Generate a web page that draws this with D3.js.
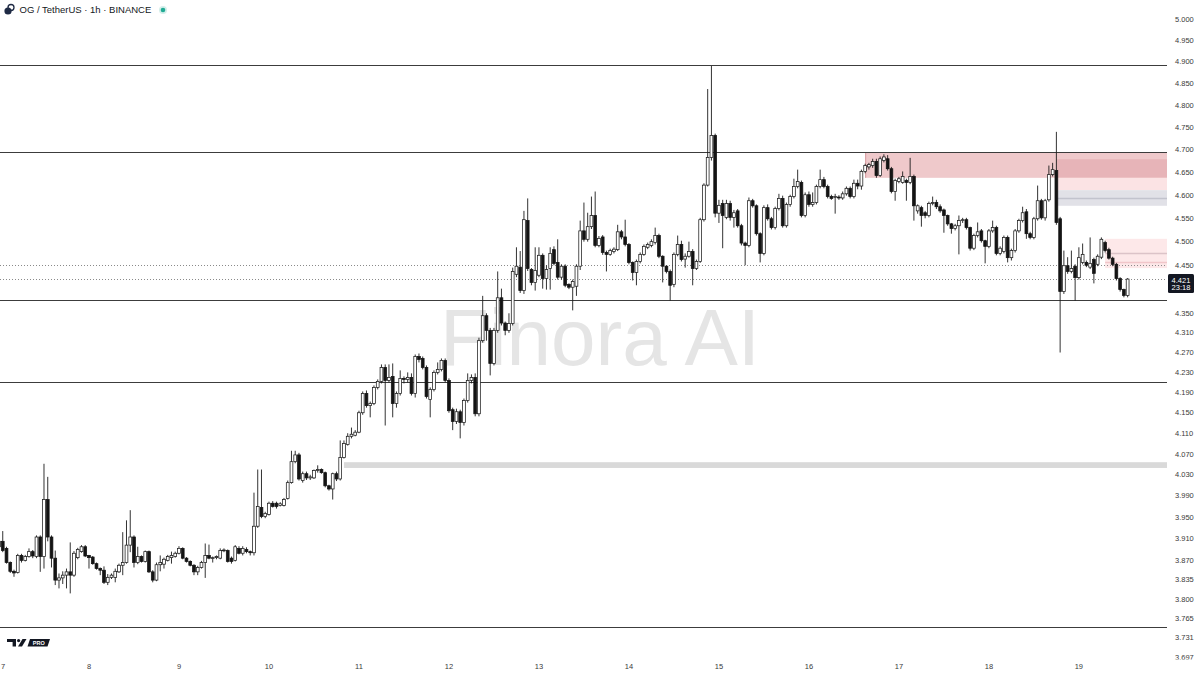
<!DOCTYPE html>
<html><head><meta charset="utf-8">
<script src="https://cdn.jsdelivr.net/npm/d3@7"></script>
<style>html,body{margin:0;padding:0;background:#fff;}svg{display:block;}</style>
</head><body>
<svg id="c" width="1200" height="675"></svg>
<script>
// ---------- DATA (OG / TetherUS, 1h) ----------
const open = [
3.895,3.905,3.892,3.866,3.850,3.848,3.879,3.870,3.877,3.886,
3.877,3.913,3.877,3.983,3.913,3.874,3.834,3.838,3.843,3.849,
3.843,3.875,3.886,3.895,3.879,3.876,3.864,3.855,3.852,3.830,
3.839,3.839,3.849,3.861,3.866,3.898,3.913,3.866,3.877,3.868,
3.886,3.849,3.834,3.862,3.863,3.870,3.875,3.877,3.883,3.892,
3.874,3.868,3.861,3.849,3.857,3.866,3.879,3.874,3.875,3.874,
3.888,3.888,3.874,3.870,3.892,3.883,3.890,3.886,3.884,3.933,
3.968,3.951,3.955,3.976,3.976,3.972,3.972,3.985,4.015,4.055,
4.068,4.019,4.032,4.024,4.024,4.038,4.040,4.034,4.009,4.003,
4.032,4.022,4.063,4.088,4.104,4.106,4.112,4.150,4.188,4.164,
4.168,4.200,4.212,4.240,4.214,4.222,4.168,4.188,4.218,4.216,
4.220,4.188,4.262,4.258,4.240,4.176,4.196,4.230,4.236,4.254,
4.214,4.156,4.133,4.152,4.131,4.174,4.214,4.220,4.148,4.294,
4.345,4.315,4.248,4.315,4.382,4.330,4.315,4.329,4.431,4.446,
4.397,4.545,4.441,4.414,4.429,4.471,4.422,4.443,4.483,4.456,
4.425,4.448,4.410,4.404,4.406,4.448,4.523,4.505,4.532,4.556,
4.492,4.510,4.477,4.473,4.479,4.483,4.521,4.510,4.494,4.456,
4.435,4.458,4.473,4.488,4.492,4.498,4.513,4.469,4.448,4.437,
4.410,4.473,4.494,4.463,4.469,4.479,4.443,4.458,4.547,4.622,
4.683,4.732,4.561,4.582,4.552,4.582,4.552,4.566,4.534,4.497,
4.492,4.588,4.577,4.517,4.475,4.573,4.549,4.530,4.571,4.593,
4.534,4.580,4.597,4.619,4.628,4.556,4.601,4.580,4.584,4.619,
4.634,4.619,4.597,4.595,4.596,4.594,4.603,4.615,4.597,4.626,
4.620,4.652,4.662,4.665,4.674,4.643,4.676,4.680,4.658,4.608,
4.630,4.628,4.632,4.628,4.641,4.566,4.573,4.562,4.556,4.582,
4.584,4.575,4.568,4.556,4.538,4.528,4.534,4.545,4.547,4.530,
4.486,4.513,4.523,4.502,4.490,4.523,4.530,4.475,4.479,4.509,
4.466,4.481,4.523,4.545,4.564,4.517,4.509,4.549,4.588,4.551,
4.590,4.645,4.654,4.549,4.395,4.449,4.437,4.448,4.424,4.456,
4.456,4.446,4.462,4.452,4.467,4.498,4.483,4.465,4.452,4.422,
4.399,4.387];
const high = [
3.912,3.924,3.895,3.868,3.853,3.882,3.882,3.880,3.892,3.889,
3.916,3.916,4.051,4.026,3.916,3.888,3.846,3.850,3.855,3.903,
3.887,3.893,3.898,3.898,3.880,3.878,3.866,3.857,3.859,3.845,
3.846,3.855,3.864,3.922,3.944,3.963,3.916,3.895,3.879,3.888,
3.888,3.852,3.866,3.879,3.875,3.880,3.886,3.886,3.896,3.894,
3.876,3.870,3.863,3.860,3.869,3.901,3.899,3.877,3.879,3.892,
3.892,3.890,3.877,3.898,3.896,3.896,3.894,3.888,3.996,4.040,
4.040,3.960,3.979,3.980,3.979,3.978,3.986,4.019,4.076,4.076,
4.072,4.036,4.036,4.030,4.040,4.048,4.042,4.036,4.011,4.034,
4.036,4.096,4.096,4.110,4.121,4.116,4.154,4.192,4.194,4.172,
4.204,4.216,4.246,4.246,4.246,4.248,4.192,4.234,4.222,4.230,
4.228,4.266,4.268,4.262,4.244,4.200,4.234,4.250,4.258,4.258,
4.218,4.160,4.158,4.156,4.178,4.228,4.226,4.228,4.300,4.386,
4.350,4.320,4.320,4.437,4.401,4.333,4.350,4.445,4.488,4.480,
4.566,4.593,4.444,4.488,4.488,4.475,4.450,4.488,4.490,4.505,
4.452,4.452,4.412,4.420,4.452,4.545,4.584,4.562,4.597,4.608,
4.512,4.514,4.481,4.485,4.488,4.536,4.525,4.547,4.497,4.458,
4.462,4.477,4.494,4.498,4.505,4.530,4.517,4.471,4.450,4.441,
4.477,4.513,4.502,4.475,4.500,4.484,4.462,4.551,4.626,4.837,
4.890,4.736,4.590,4.590,4.590,4.588,4.568,4.570,4.538,4.500,
4.595,4.592,4.580,4.520,4.578,4.580,4.553,4.575,4.603,4.599,
4.584,4.601,4.636,4.656,4.632,4.606,4.608,4.606,4.623,4.656,
4.640,4.623,4.601,4.603,4.600,4.608,4.619,4.619,4.634,4.634,
4.656,4.669,4.671,4.680,4.680,4.685,4.690,4.688,4.662,4.636,
4.640,4.652,4.636,4.682,4.645,4.580,4.577,4.566,4.586,4.597,
4.590,4.580,4.571,4.558,4.540,4.538,4.556,4.551,4.551,4.532,
4.517,4.541,4.527,4.504,4.527,4.545,4.534,4.490,4.513,4.513,
4.485,4.527,4.549,4.575,4.570,4.521,4.553,4.621,4.592,4.592,
4.665,4.671,4.740,4.553,4.481,4.467,4.481,4.452,4.488,4.496,
4.460,4.509,4.466,4.473,4.509,4.502,4.487,4.468,4.455,4.425,
4.401,4.423];
const low = [
3.885,3.885,3.864,3.847,3.840,3.846,3.866,3.868,3.875,3.874,
3.874,3.849,3.855,3.905,3.857,3.825,3.819,3.827,3.819,3.810,
3.840,3.872,3.884,3.876,3.855,3.862,3.853,3.843,3.827,3.825,
3.836,3.830,3.847,3.843,3.864,3.885,3.857,3.863,3.866,3.866,
3.847,3.830,3.832,3.850,3.855,3.868,3.864,3.875,3.881,3.872,
3.866,3.859,3.843,3.843,3.855,3.838,3.872,3.866,3.872,3.872,
3.885,3.866,3.864,3.868,3.881,3.879,3.883,3.879,3.879,3.930,
3.948,3.948,3.953,3.968,3.966,3.970,3.970,3.983,4.013,4.052,
4.019,4.015,4.020,4.020,4.022,4.034,4.032,4.006,4.000,3.983,
4.018,4.019,4.061,4.086,4.100,4.104,4.110,4.146,4.160,4.141,
4.165,4.196,4.208,4.125,4.210,4.141,4.160,4.184,4.208,4.210,
4.184,4.180,4.250,4.236,4.178,4.141,4.192,4.226,4.232,4.210,
4.150,4.116,4.128,4.100,4.125,4.170,4.208,4.143,4.143,4.290,
4.294,4.224,4.244,4.310,4.325,4.305,4.310,4.325,4.425,4.392,
4.390,4.438,4.408,4.397,4.425,4.401,4.399,4.399,4.450,4.420,
4.420,4.404,4.400,4.356,4.386,4.440,4.500,4.500,4.527,4.488,
4.488,4.472,4.437,4.470,4.475,4.480,4.505,4.490,4.452,4.418,
4.408,4.454,4.470,4.484,4.488,4.494,4.465,4.414,4.433,4.376,
4.404,4.469,4.458,4.445,4.466,4.408,4.440,4.455,4.543,4.619,
4.676,4.552,4.540,4.486,4.548,4.545,4.530,4.530,4.492,4.450,
4.488,4.573,4.513,4.456,4.471,4.545,4.526,4.526,4.567,4.530,
4.530,4.575,4.593,4.615,4.552,4.552,4.575,4.575,4.580,4.615,
4.615,4.593,4.590,4.560,4.590,4.590,4.599,4.593,4.593,4.613,
4.612,4.648,4.656,4.660,4.638,4.640,4.672,4.654,4.604,4.588,
4.626,4.625,4.588,4.624,4.545,4.560,4.532,4.550,4.552,4.578,
4.570,4.562,4.519,4.534,4.517,4.524,4.473,4.540,4.526,4.481,
4.482,4.509,4.498,4.454,4.486,4.519,4.471,4.471,4.475,4.456,
4.460,4.477,4.519,4.541,4.506,4.505,4.505,4.545,4.547,4.545,
4.586,4.641,4.536,4.270,4.390,4.432,4.433,4.376,4.420,4.452,
4.446,4.442,4.412,4.448,4.463,4.477,4.462,4.448,4.418,4.395,
4.383,4.383];
const close = [
3.905,3.888,3.866,3.850,3.847,3.879,3.870,3.877,3.886,3.878,
3.913,3.877,3.983,3.913,3.874,3.834,3.838,3.843,3.849,3.843,
3.883,3.890,3.895,3.878,3.875,3.864,3.855,3.852,3.830,3.839,
3.843,3.850,3.861,3.866,3.898,3.913,3.866,3.877,3.868,3.886,
3.849,3.834,3.862,3.866,3.872,3.877,3.879,3.883,3.892,3.874,
3.868,3.861,3.849,3.857,3.866,3.879,3.874,3.875,3.877,3.888,
3.889,3.868,3.868,3.895,3.883,3.892,3.886,3.884,3.933,3.970,
3.951,3.957,3.976,3.970,3.970,3.975,3.983,4.015,4.055,4.068,
4.022,4.032,4.024,4.026,4.038,4.040,4.034,4.009,4.003,4.032,
4.022,4.063,4.090,4.104,4.108,4.112,4.150,4.188,4.164,4.168,
4.200,4.212,4.240,4.214,4.220,4.168,4.188,4.218,4.216,4.220,
4.188,4.262,4.256,4.240,4.182,4.196,4.230,4.236,4.254,4.214,
4.154,4.133,4.152,4.131,4.174,4.214,4.220,4.148,4.294,4.345,
4.315,4.248,4.315,4.382,4.330,4.315,4.329,4.437,4.448,4.397,
4.547,4.443,4.414,4.439,4.471,4.422,4.441,4.475,4.454,4.425,
4.448,4.408,4.404,4.416,4.448,4.523,4.505,4.532,4.556,4.492,
4.507,4.477,4.473,4.481,4.484,4.521,4.510,4.494,4.456,4.435,
4.458,4.473,4.490,4.494,4.500,4.513,4.469,4.448,4.437,4.408,
4.473,4.494,4.462,4.469,4.479,4.443,4.458,4.547,4.622,4.683,
4.732,4.561,4.578,4.556,4.582,4.552,4.562,4.534,4.497,4.492,
4.588,4.577,4.517,4.475,4.573,4.549,4.530,4.571,4.593,4.534,
4.580,4.597,4.619,4.630,4.556,4.601,4.580,4.584,4.619,4.634,
4.619,4.597,4.593,4.597,4.594,4.603,4.615,4.597,4.626,4.620,
4.652,4.665,4.667,4.674,4.643,4.680,4.684,4.658,4.608,4.632,
4.636,4.641,4.628,4.641,4.577,4.577,4.556,4.556,4.582,4.584,
4.575,4.566,4.556,4.538,4.528,4.534,4.545,4.547,4.530,4.486,
4.513,4.521,4.502,4.490,4.523,4.530,4.475,4.486,4.509,4.466,
4.481,4.523,4.545,4.562,4.517,4.509,4.549,4.588,4.551,4.588,
4.645,4.656,4.541,4.395,4.449,4.437,4.443,4.424,4.466,4.473,
4.450,4.454,4.433,4.469,4.505,4.481,4.465,4.452,4.422,4.399,
4.387,4.421];

const dayLabels    = ["7","8","9","10","11","12","13","14","15","16","17","18","19"];
const dayTickIndex = [0,24,48,72,96,120,144,168,192,216,240,264,288];
const priceTicks   = [5.000,4.950,4.900,4.850,4.800,4.750,4.700,4.650,4.600,4.550,4.500,4.450,
                      4.350,4.310,4.270,4.230,4.190,4.150,4.110,4.070,4.030,3.990,3.950,3.910,3.870,
                      3.835,3.800,3.765,3.731,3.697];
const levelLines   = [4.892, 4.694, 4.377, 4.211, 3.749];
const dottedLevels = [4.450, 4.421];
const zoneStart    = [231, 282, 282, 282, 295, 92];
const zoneTop      = [4.694, 4.679, 4.638, 4.611, 4.506, 4.054];
const zoneBottom   = [4.638, 4.638, 4.611, 4.577, 4.444, 4.043];
const zoneLineStart = [282, 295, 295];
const zoneLineLevel = [4.594, 4.476, 4.457];
const lastPrice = 4.421, lastCountdown = "23:18";
const titleText = "OG / TetherUS · 1h · BINANCE";
const watermarkText = "Finora AI";

// ---------- STYLES ----------
const zoneFill = ["#efc9cb", "#e7b4b8", "#fbe3e4", "#e1e1e7", "#fde8e9", "#d9d9d9"];
const zoneLineColor = ["#c2c3cd", "#dcc3c8", "#f1c6ca"];

// ---------- DRAW ----------
const plotRight = 1167;
const svg = d3.select("#c");
const x = d3.scaleLinear().domain([0, 311.5]).range([-1, plotRight]);
const y = d3.scaleLog().domain([3.697, 5.0]).range([657, 19]);
const font = "'Liberation Sans', Arial, sans-serif";

svg.append("rect").attr("width",1200).attr("height",675).attr("fill","#fff");

const defs = svg.append("defs");
defs.append("clipPath").attr("id","plotClip").append("rect").attr("x",0).attr("y",0).attr("width",plotRight).attr("height",660);
defs.append("clipPath").attr("id","axisClip").append("rect").attr("x",plotRight).attr("y",0).attr("width",40).attr("height",659.5);

const plot = svg.append("g").attr("clip-path","url(#plotClip)");

// zones
const zones = zoneStart.map((s,i)=>({s, t:zoneTop[i], b:zoneBottom[i], f:zoneFill[i]}));
plot.selectAll("rect.zone").data(zones).join("rect").attr("class","zone")
  .attr("x", d=>x(d.s)).attr("width", d=>plotRight - x(d.s))
  .attr("y", d=>y(d.t)).attr("height", d=>y(d.b)-y(d.t))
  .attr("fill", d=>d.f);
plot.append("line").attr("x1",x(zoneStart[0])+0.5).attr("x2",x(zoneStart[0])+0.5)
  .attr("y1",y(zoneTop[0])).attr("y2",y(zoneBottom[0])).attr("stroke","#d79ca1").attr("stroke-width",1);
const zl = zoneLineStart.map((s,i)=>({s, v:zoneLineLevel[i], c:zoneLineColor[i]}));
plot.selectAll("line.zl").data(zl).join("line").attr("class","zl")
  .attr("x1", d=>x(d.s)).attr("x2", plotRight)
  .attr("y1", d=>Math.round(y(d.v))+0.5).attr("y2", d=>Math.round(y(d.v))+0.5)
  .attr("stroke", d=>d.c).attr("stroke-width", 1.5);

// watermark
plot.append("text").attr("x",600).attr("y",365).attr("text-anchor","middle")
  .attr("font-family",font).attr("font-size",80).attr("fill","#e5e5e5").text(watermarkText);

// level lines
plot.selectAll("line.lvl").data(levelLines).join("line").attr("class","lvl")
  .attr("x1",0).attr("x2",plotRight)
  .attr("y1",d=>Math.round(y(d))+0.5).attr("y2",d=>Math.round(y(d))+0.5)
  .attr("stroke","#3c3c3c").attr("stroke-width",1.2);
plot.selectAll("line.dot").data(dottedLevels).join("line").attr("class","dot")
  .attr("x1",0).attr("x2",plotRight)
  .attr("y1",d=>Math.round(y(d))+0.5).attr("y2",d=>Math.round(y(d))+0.5)
  .attr("stroke","#8a8a8a").attr("stroke-width",1).attr("stroke-dasharray","1,2");

// candles
const candles = open.map((o,i)=>({i, o, h:high[i], l:low[i], c:close[i]}));
const cg = plot.append("g");
cg.selectAll("line.wick").data(candles).join("line").attr("class","wick")
  .attr("x1",d=>x(d.i)).attr("x2",d=>x(d.i))
  .attr("y1",d=>y(d.h)).attr("y2",d=>y(d.l))
  .attr("stroke","#1c1c1c").attr("stroke-width",0.9);
cg.selectAll("rect.body").data(candles).join("rect").attr("class","body")
  .attr("x",d=>x(d.i)-1.4).attr("width",2.8)
  .attr("y",d=>y(Math.max(d.o,d.c)))
  .attr("height",d=>Math.max(0.8, Math.abs(y(d.o)-y(d.c))))
  .attr("fill",d=>d.c>=d.o ? "#ffffff" : "#141414")
  .attr("stroke",d=>d.c>=d.o ? "#1c1c1c" : "#141414")
  .attr("stroke-width",0.75);

// right price axis
const ax = svg.append("g").attr("clip-path","url(#axisClip)");
ax.selectAll("text").data(priceTicks).join("text")
  .attr("x",1175).attr("y",d=>y(d)).attr("dy","0.35em")
  .attr("font-family",font).attr("font-size",7.5).attr("fill","#3a3a3a")
  .text(d=>d3.format(".3f")(d));

// last price label
const ly = y(lastPrice);
svg.append("rect").attr("x",1168).attr("y",ly-5).attr("width",26).attr("height",19).attr("rx",1.5).attr("fill","#131722");
svg.append("text").attr("x",1181).attr("y",ly+1).attr("text-anchor","middle").attr("dy","0.35em")
  .attr("font-family",font).attr("font-size",7.5).attr("fill","#fff").text(d3.format(".3f")(lastPrice));
svg.append("text").attr("x",1181).attr("y",ly+8.5).attr("text-anchor","middle").attr("dy","0.35em")
  .attr("font-family",font).attr("font-size",7.5).attr("fill","#fff").text(lastCountdown);

// time axis
svg.selectAll("text.day").data(dayTickIndex).join("text").attr("class","day")
  .attr("x",d=>Math.max(x(d), 3)).attr("y",666).attr("dy","0.35em").attr("text-anchor","middle")
  .attr("font-family",font).attr("font-size",7.5).attr("fill","#3a3a3a")
  .text((d,i)=>dayLabels[i]);

// title
const tg = svg.append("g");
tg.append("circle").attr("cx",11).attr("cy",7.5).attr("r",3).attr("fill","#fff").attr("stroke","#1f2a44").attr("stroke-width",1.3);
tg.append("circle").attr("cx",8).attr("cy",11).attr("r",3.6).attr("fill","#1f2a44");
tg.append("text").attr("x",19.5).attr("y",10).attr("dy","0.35em")
  .attr("font-family",font).attr("font-size",9.5).attr("fill","#131722").text(titleText);
tg.append("circle").attr("cx",163).attr("cy",10).attr("r",4).attr("fill","#22ab94").attr("opacity",0.2);
tg.append("circle").attr("cx",163).attr("cy",10).attr("r",2.3).attr("fill","#22ab94");

// TradingView logo
const lg = svg.append("g");
lg.append("path").attr("d","M7,639 H16 V646.5 H12.6 V642 H7 Z").attr("fill","#131722");
lg.append("circle").attr("cx",18.6).attr("cy",640.6).attr("r",1.6).attr("fill","#131722");
lg.append("path").attr("d","M22.5,639 H26.5 L22,646.5 H18 Z").attr("fill","#131722");
lg.append("path").attr("d","M30,639 H50 L47.5,646.5 H27.5 Z").attr("fill","#131722");
lg.append("text").attr("x",38.8).attr("y",643).attr("dy","0.35em").attr("text-anchor","middle")
  .attr("font-family",font).attr("font-weight","bold").attr("font-size",5.5).attr("fill","#fff").text("PRO");
</script>
</body></html>
